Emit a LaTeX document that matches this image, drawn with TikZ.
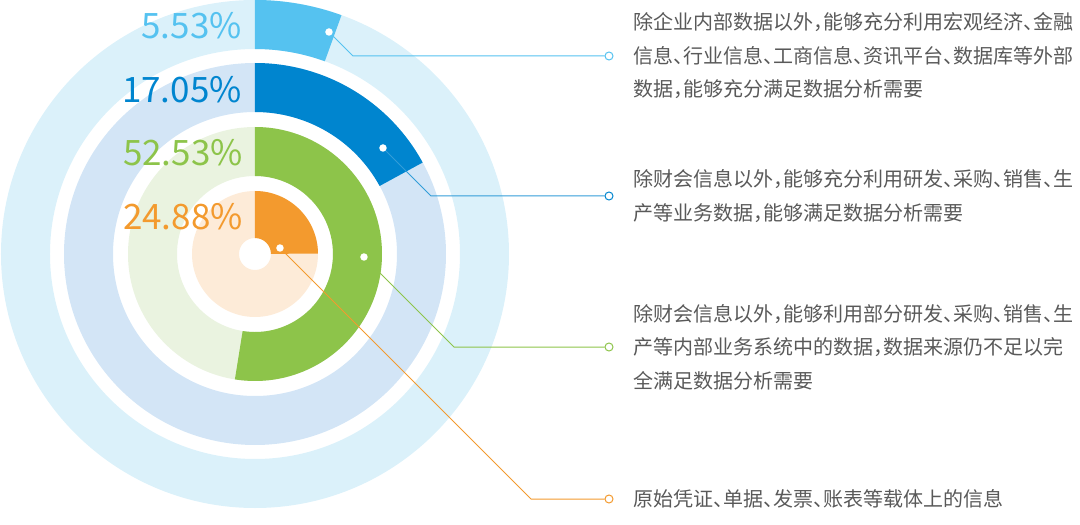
\documentclass[tikz,border=0pt]{standalone}
\usepackage{fontspec}
\usepackage{tikz}
\usetikzlibrary{positioning}
\setmainfont{Noto Sans CJK SC}[RawFeature=+halt]
\newfontfamily\pctfont{Noto Sans CJK SC}
\definecolor{skyblue}{RGB}{85,194,240}
\definecolor{skytrack}{RGB}{219,241,250}
\definecolor{deepblue}{RGB}{0,133,207}
\definecolor{deeptrack}{RGB}{211,229,246}
\definecolor{leafgreen}{RGB}{141,196,74}
\definecolor{leaftrack}{RGB}{234,243,224}
\definecolor{amber}{RGB}{243,154,46}
\definecolor{ambertrack}{RGB}{253,235,216}
\definecolor{txtgray}{RGB}{89,89,89}

\begin{document}
\begin{tikzpicture}[x=1pt, y=1pt,
		  dot/.style={circle, fill=white, inner sep=0pt, minimum size=7.5pt},
		  end dot/.style={circle, draw, fill=white, line width=1pt, inner sep=0pt, minimum size=8pt},
		  lead/.style={line width=1pt},
		  pct/.style={font=\pctfont\fontsize{35}{35}\selectfont, anchor=base east, inner sep=0pt},
		  desc/.style={font=\fontsize{20}{33.5}\selectfont, text=txtgray, align=left, inner sep=0pt}]
		  \useasboundingbox (-255,-271) rectangle (825,254);
		  % rings: outer r / inner r / end angle / colour / track
		  \foreach \ro/\ri/\ang/\col/\trk in {254/205/70.09/skyblue/skytrack,
		      191/142/28.62/deepblue/deeptrack,
		      127/78/-99.11/leafgreen/leaftrack,
		      63/16/0.43/amber/ambertrack}{
		      \fill[\trk, even odd rule] (0,0) circle (\ro pt) (0,0) circle (\ri pt);
		      \fill[\col] (90:\ro) arc (90:\ang:\ro pt) -- (\ang:\ri) arc (\ang:90:\ri pt) -- cycle;
		  }
		  \node[pct, text=skyblue] (p1) at (-13,215.7) {5.53\%};
		  \node[pct, text=deepblue] (p2) at (-13,151.3) {17.05\%};
		  \node[pct, text=leafgreen] (p3) at (-12,88.3) {52.53\%};
		  \node[pct, text=amber] (p4) at (-12,24.7) {24.88\%};
		  \node[dot] (d1) at (74,222) {};
		  \node[dot] (d2) at (128,106) {};
		  \node[dot] (d3) at (109,-3) {};
		  \node[dot] (d4) at (25,6) {};
		  \node[end dot, draw=skyblue] (c1) at (354,198) {};
		  \node[end dot, draw=deepblue] (c2) at (354,58) {};
		  \node[end dot, draw=leafgreen] (c3) at (354,-93) {};
		  \node[end dot, draw=amber] (c4) at (354,-245) {};
		  \coordinate (k1) at (98,198);
		  \coordinate (k2) at (176,58);
		  \coordinate (k3) at (199,-93);
		  \coordinate (k4) at (276,-245);
		  \draw[lead, skyblue] (d1) -- (k1) -- (c1);
		  \draw[lead, deepblue!80!white] (d2) -- (k2) -- (c2);
		  \draw[lead, leafgreen] (d3) -- (k3) -- (c3);
		  \draw[lead, amber] (d4) -- (k4) -- (c4);
		  \node[desc, right=20pt of c1] (t1) {除企业内部数据以外，能够充分利用宏观经济、金融\\信息、行业信息、工商信息、资讯平台、数据库等外部\\数据，能够充分满足数据分析需要};
		  \node[desc, right=20pt of c2] (t2) {除财会信息以外，能够充分利用研发、采购、销售、生\\产等业务数据，能够满足数据分析需要};
		  \node[desc, right=20pt of c3] (t3) {除财会信息以外，能够利用部分研发、采购、销售、生\\产等内部业务系统中的数据，数据来源仍不足以完\\全满足数据分析需要};
		  \node[desc, right=20pt of c4] (t4) {原始凭证、单据、发票、账表等载体上的信息};
\end{tikzpicture}
\end{document}
